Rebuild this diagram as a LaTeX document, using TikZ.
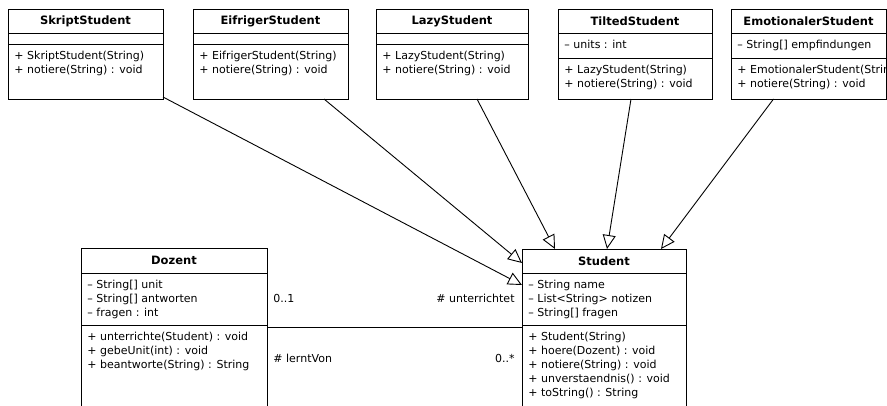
\documentclass[tikz,border=0pt]{standalone}
\usepackage{fontspec}
\setmainfont{DejaVu Sans}
\usetikzlibrary{arrows.meta, positioning}

\begin{document}
\begin{tikzpicture}[x=1pt, y=-1pt, line width=0.9pt,
    classname/.style={
        draw, inner sep=0pt, outer sep=0pt, minimum height=24pt,
        font=\fontsize{11.5}{14}\selectfont\bfseries
    },
    compartment/.style={draw, inner sep=0pt, outer sep=0pt},
    members/.style={anchor=north west, align=left, inner sep=0pt, font=\fontsize{11}{14}\selectfont},
    role/.style={inner sep=0pt, font=\fontsize{11}{14}\selectfont},
    extends/.style={-{Triangle[open, length=14pt, width=13pt]}}
]
\clip (0,0) rectangle (887,405);

% Subclasses in the top row
\node[classname, minimum width=155pt, anchor=north west] (skriptH) at (8,9) {SkriptStudent};
\node[compartment, minimum width=155pt, minimum height=11pt, below=0pt of skriptH] (skriptA) {};
\node[compartment, minimum width=155pt, minimum height=55pt, below=0pt of skriptA] (skriptM) {};
\node[members] (skriptT) at ([shift={(6pt,-7pt)}]skriptM.north west) {+ SkriptStudent(String)\\+ notiere(String) : void};

\node[classname, minimum width=155pt, right=30pt of skriptH] (eifrH) {EifrigerStudent};
\node[compartment, minimum width=155pt, minimum height=11pt, below=0pt of eifrH] (eifrA) {};
\node[compartment, minimum width=155pt, minimum height=55pt, below=0pt of eifrA] (eifrM) {};
\node[members] (eifrT) at ([shift={(6pt,-7pt)}]eifrM.north west) {+ EifrigerStudent(String)\\+ notiere(String) : void};

\node[classname, minimum width=152pt, right=28pt of eifrH] (lazyH) {LazyStudent};
\node[compartment, minimum width=152pt, minimum height=11pt, below=0pt of lazyH] (lazyA) {};
\node[compartment, minimum width=152pt, minimum height=55pt, below=0pt of lazyA] (lazyM) {};
\node[members] (lazyT) at ([shift={(6pt,-7pt)}]lazyM.north west) {+ LazyStudent(String)\\+ notiere(String) : void};

\node[classname, minimum width=154pt, right=30pt of lazyH] (tiltH) {TiltedStudent};
\node[compartment, minimum width=154pt, minimum height=25pt, below=0pt of tiltH] (tiltA) {};
\node[compartment, minimum width=154pt, minimum height=41pt, below=0pt of tiltA] (tiltM) {};
\node[members] (tiltU) at ([shift={(6pt,-7pt)}]tiltA.north west) {– units : int};
\node[members] (tiltT) at ([shift={(6pt,-7pt)}]tiltM.north west) {+ LazyStudent(String)\\+ notiere(String) : void};

\node[classname, minimum width=155pt, right=19pt of tiltH] (emoH) {EmotionalerStudent};
\node[compartment, minimum width=155pt, minimum height=25pt, below=0pt of emoH] (emoA) {};
\node[compartment, minimum width=155pt, minimum height=41pt, below=0pt of emoA] (emoM) {};
\node[members] (emoU) at ([shift={(6pt,-7pt)}]emoA.north west) {– String[] empfindungen};
\begin{scope}
    \clip (emoM.north west) rectangle (emoM.south east);
    \node[members] (emoT) at ([shift={(6pt,-7pt)}]emoM.north west) {+ EmotionalerStudent(String)\\+ notiere(String) : void};
\end{scope}

% Dozent
\node[classname, minimum width=186pt, minimum height=25pt, anchor=north west] (dozH) at (81,248) {Dozent};
\node[compartment, minimum width=186pt, minimum height=52pt, below=0pt of dozH] (dozA) {};
\node[compartment, minimum width=186pt, minimum height=90pt, below=0pt of dozA] (dozM) {};
\node[members] (dozU) at ([shift={(6pt,-7pt)}]dozA.north west) {– String[] unit\\– String[] antworten\\– fragen : int};
\node[members] (dozT) at ([shift={(6pt,-7pt)}]dozM.north west) {+ unterrichte(Student) : void\\+ gebeUnit(int) : void\\+ beantworte(String) : String};

% Student
\node[classname, minimum width=164pt, anchor=north west] (stuH) at (522,249) {Student};
\node[compartment, minimum width=164pt, minimum height=52pt, below=0pt of stuH] (stuA) {};
\node[compartment, minimum width=164pt, minimum height=90pt, below=0pt of stuA] (stuM) {};
\node[members] (stuU) at ([shift={(6pt,-7pt)}]stuA.north west) {– String name\\– List<String> notizen\\– String[] fragen};
\node[members] (stuT) at ([shift={(6pt,-7pt)}]stuM.north west) {+ Student(String)\\+ hoere(Dozent) : void\\+ notiere(String) : void\\+ unverstaendnis() : void\\+ toString() : String};

% Generalizations
\draw[extends] ([yshift=2pt]skriptM.south east) -- ([yshift=-12pt]stuA.north west);
\draw[extends] ([xshift=-24pt]eifrM.south east) -- ([yshift=-2pt]stuH.west);
\draw[extends] ([xshift=-51pt]lazyM.south east) -- ([xshift=-49pt]stuH.north);
\draw[extends] ([xshift=-4pt]tiltM.south) -- ([xshift=3pt]stuH.north);
\draw[extends] ([xshift=-35pt]emoM.south) -- ([xshift=57pt]stuH.north);

% Association
\draw ([yshift=-2pt]dozA.south east) -- ([yshift=-2pt]stuA.south west)
    node[role, at start, anchor=west, xshift=6pt, yshift=29pt] (mulDoz) {0..1}
    node[role, at start, anchor=west, xshift=6pt, yshift=-31pt] (roleDoz) {\# lerntVon}
    node[role, at end, anchor=east, xshift=-7pt, yshift=29pt] (roleStu) {\# unterrichtet}
    node[role, at end, anchor=east, xshift=-7pt, yshift=-31pt] (mulStu) {0..*};

\end{tikzpicture}
\end{document}
